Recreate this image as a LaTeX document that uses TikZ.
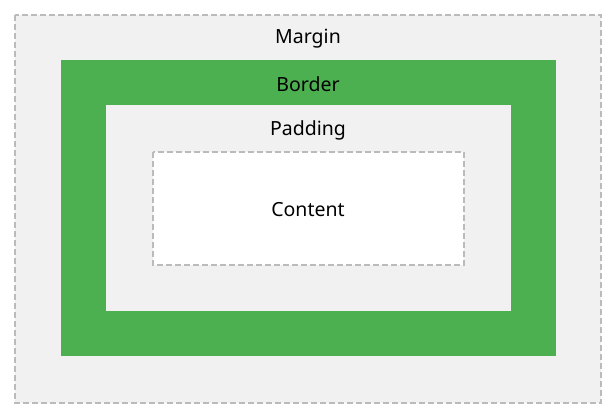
\documentclass[tikz,border=0pt]{standalone}
\usepackage{fontspec}
\setmainfont{Noto Sans}
\definecolor{mgray}{HTML}{F1F1F1}
\definecolor{bgreen}{HTML}{4CAF50}
\definecolor{dgray}{HTML}{BBBBBB}
\begin{document}
\begin{tikzpicture}[x=1pt,y=-1pt,
  dashbox/.style={draw=dgray,line width=2pt,dash pattern=on 6pt off 3pt},
  lbl/.style={font=\fontsize{19.5}{22}\selectfont,text=black,inner sep=0pt}]
\useasboundingbox (0,0) rectangle (616,419);
\fill[white] (0,0) rectangle (616,419);
\path[fill=mgray,dashbox] (15,15) rectangle (601,403);
\fill[bgreen] (61,60) rectangle (556,356);
\fill[mgray] (106,105) rectangle (511,311);
\path[fill=white,dashbox] (153,152) rectangle (464,265);
\node[lbl] (margin) at (308,39) {Margin};
\node[lbl] (border) at (308,84) {Border};
\node[lbl] (padding) at (308,130) {Padding};
\node[lbl] (content) at (308,210) {Content};
\end{tikzpicture}
\end{document}
